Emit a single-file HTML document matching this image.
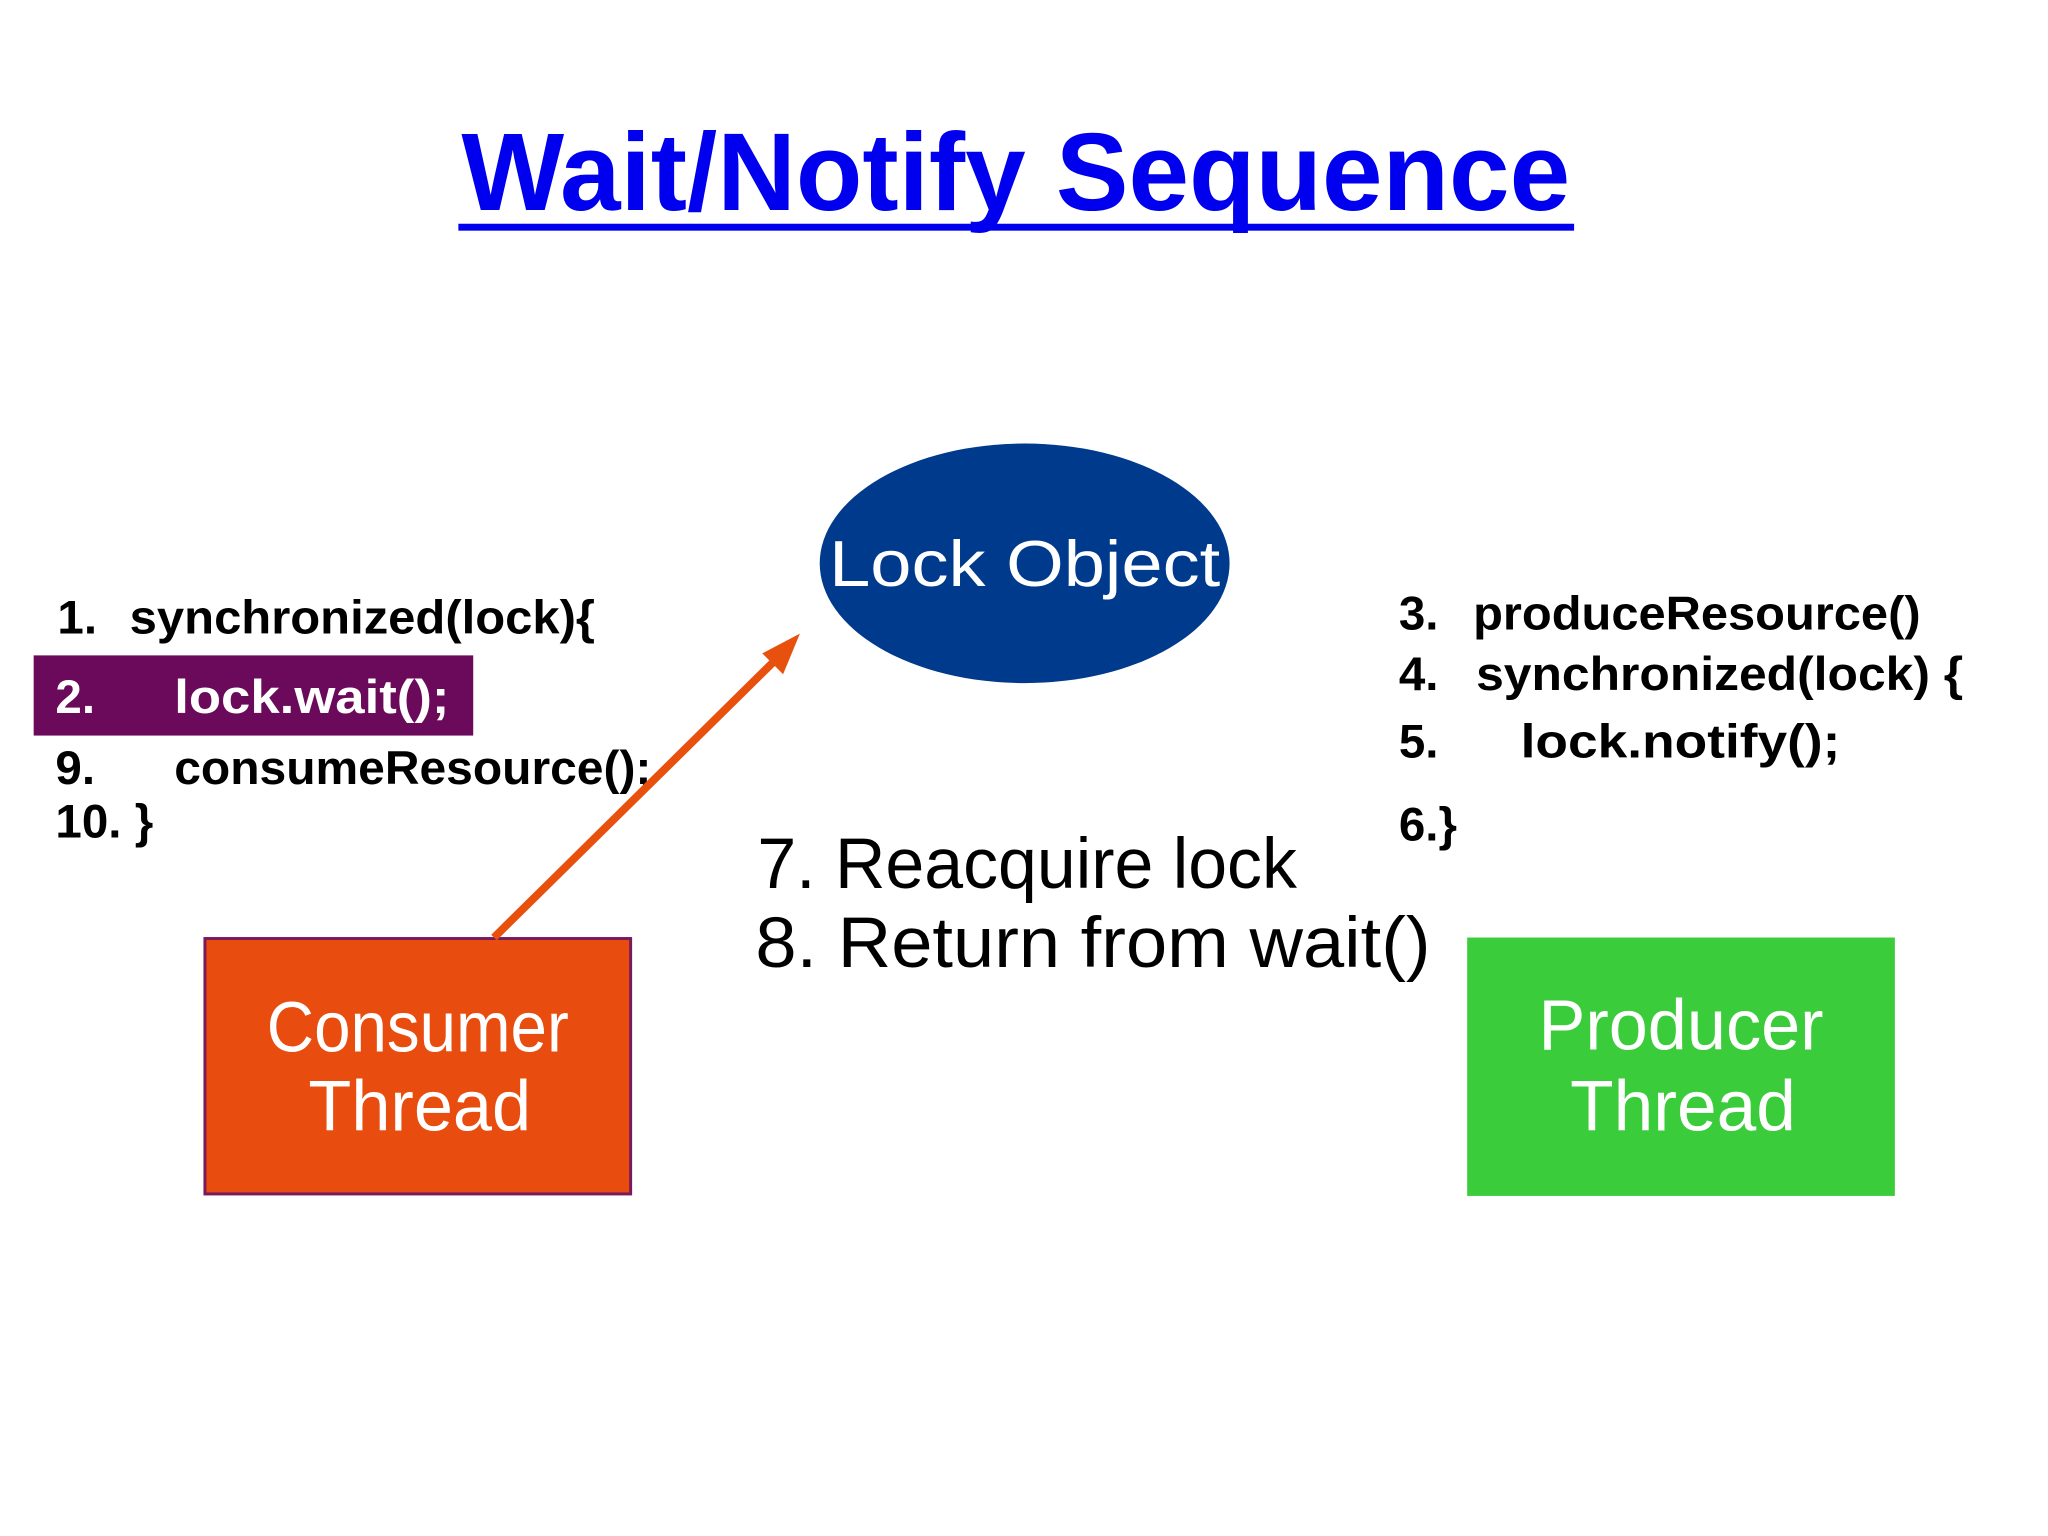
<!DOCTYPE html>
<html><head><meta charset="utf-8"><style>
html,body{margin:0;padding:0;background:#fff;}
svg{display:block;}
text{font-family:"Liberation Sans",sans-serif;}
</style></head><body>
<svg width="2048" height="1536" viewBox="0 0 2048 1536" xmlns="http://www.w3.org/2000/svg">
<rect width="2048" height="1536" fill="#fff"/>
<g transform="scale(0.99)">
<text x="1026" y="212" font-size="112" font-weight="bold" fill="#0000ee" text-anchor="middle" textLength="1120" lengthAdjust="spacingAndGlyphs">Wait/Notify Sequence</text>
<rect x="463" y="226" width="1127" height="7" fill="#0000ee"/>
<ellipse cx="1035" cy="569" rx="207" ry="121" fill="#003a8c"/>
<text x="1035" y="592" font-size="66" fill="#fff" text-anchor="middle" textLength="395" lengthAdjust="spacingAndGlyphs">Lock Object</text>
<rect x="34" y="662" width="444" height="81" fill="#6b0a5a"/>
<g font-size="48" font-weight="bold" fill="#000">
<text x="58" y="640">1.</text><text x="131" y="640" textLength="470" lengthAdjust="spacingAndGlyphs">synchronized(lock){</text>
<text x="56" y="720" fill="#fff">2.</text><text x="176" y="720" fill="#fff" textLength="278" lengthAdjust="spacingAndGlyphs">lock.wait();</text>
<text x="56" y="792">9.</text><text x="176" y="792" textLength="482" lengthAdjust="spacingAndGlyphs">consumeResource();</text>
<text x="56" y="846">10. }</text>
<text x="1413" y="636">3.</text><text x="1488" y="636" textLength="452" lengthAdjust="spacingAndGlyphs">produceResource()</text>
<text x="1413" y="697">4.</text><text x="1491" y="697" textLength="492" lengthAdjust="spacingAndGlyphs">synchronized(lock) {</text>
<text x="1413" y="765">5.</text><text x="1536" y="765" textLength="323" lengthAdjust="spacingAndGlyphs">lock.notify();</text>
<text x="1413" y="849">6.}</text>
</g>
<g font-size="72" fill="#000">
<text x="765" y="897" textLength="545" lengthAdjust="spacingAndGlyphs">7. Reacquire lock</text>
<text x="763" y="977" textLength="682" lengthAdjust="spacingAndGlyphs">8. Return from wait()</text>
</g>
<rect x="207" y="948" width="430" height="258" fill="#e84c0e" stroke="#7a1a5a" stroke-width="3"/>
<text x="422" y="1062" font-size="72" fill="#fff" text-anchor="middle" textLength="305" lengthAdjust="spacingAndGlyphs">Consumer</text>
<text x="424" y="1142" font-size="72" fill="#fff" text-anchor="middle" textLength="225" lengthAdjust="spacingAndGlyphs">Thread</text>
<rect x="1482" y="947" width="432" height="261" fill="#3acc3a"/>
<text x="1698" y="1060" font-size="72" fill="#fff" text-anchor="middle" textLength="288" lengthAdjust="spacingAndGlyphs">Producer</text>
<text x="1700" y="1142" font-size="72" fill="#fff" text-anchor="middle" textLength="228" lengthAdjust="spacingAndGlyphs">Thread</text>
<line x1="499" y1="947" x2="790" y2="660" stroke="#e8500e" stroke-width="8"/>
<polygon points="808,640 770,660 791,681" fill="#e8500e"/>
</g>
</svg>
</body></html>
